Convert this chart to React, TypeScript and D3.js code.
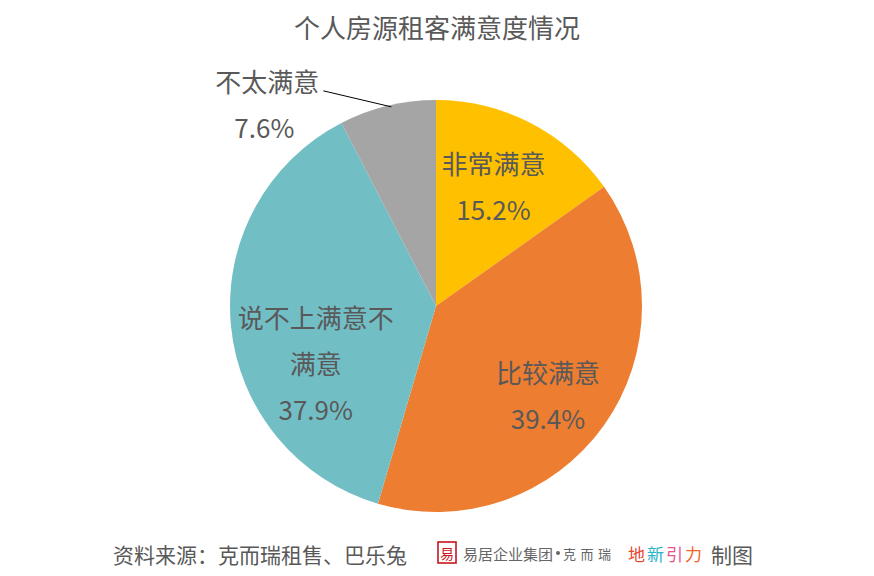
import React from "react";
import * as d3 from "d3";

const categories = ["非常满意", "比较满意", "说不上满意不满意", "不太满意"];
const values = [15.2, 39.4, 37.9, 7.6];
const valueLabels = ["15.2%", "39.4%", "37.9%", "7.6%"];
const colors = ["#FFC000", "#ED7D31", "#72BEC5", "#A5A5A5"];
// label line breaks
const labelLines = [["非常满意"], ["比较满意"], ["说不上满意不", "满意"], ["不太满意"]];
const groupChars = ["克", "而", "瑞"];
const brandChars = ["地", "新", "引", "力"];
const brandColors = ["#E8452C", "#29B4C8", "#E8528A", "#F0642A"];

const W = 874;
const H = 576;
const CX = 436;
const CY = 306;
const R = 206;
const FONT = "'Noto Sans CJK SC', 'Noto Sans', sans-serif";
const TEXT = "#595959";

// layout nudges for inside labels (relative to centroid at 0.65R)
const nudges = [
  [-4, -2],
  [3, 11],
  [13, 44],
  [0, 0],
];

export default function App() {
  const pie = d3.pie<number>().sort(null).value((d) => d)(values);
  const arc = d3.arc<d3.PieArcDatum<number>>().innerRadius(0).outerRadius(R);
  const labelArc = d3
    .arc<d3.PieArcDatum<number>>()
    .innerRadius(R * 0.65)
    .outerRadius(R * 0.65);

  const lineGap = 46;

  return (
    <svg width={W} height={H} style={{ display: "block", position: "absolute", left: 0, top: 0 }} fontFamily={FONT}>
      <rect width={W} height={H} fill="#fff" />
      <text x={437} y={26} textAnchor="middle" dominantBaseline="central" fontSize={26} fill={TEXT}>
        个人房源租客满意度情况
      </text>
      <g transform={`translate(${CX},${CY})`}>
        {pie.map((p, i) => (
          <path key={i} d={arc(p) || ""} fill={colors[i]} />
        ))}
        {pie.map((p, i) => {
          if (i === 3) {
            const mid = (p.startAngle + p.endAngle) / 2;
            const ex = Math.sin(mid) * R;
            const ey = -Math.cos(mid) * R;
            const lx = ex - 120;
            const ly = ey - 25;
            return (
              <g key={i}>
                <line x1={ex + 4} y1={ey + 1} x2={lx + 56} y2={ly + 10} stroke="#000" strokeWidth={1} />
                <text x={lx} y={ly} textAnchor="middle" dominantBaseline="central" fontSize={26} fill={TEXT}>
                  {labelLines[i][0]}
                </text>
                <text x={lx - 3} y={ly + lineGap} textAnchor="middle" dominantBaseline="central" fontSize={26} fill={TEXT}>
                  {valueLabels[i]}
                </text>
              </g>
            );
          }
          const [cx, cy] = labelArc.centroid(p);
          const x = cx + nudges[i][0];
          const lines = [...labelLines[i], valueLabels[i]];
          const y0 = cy + nudges[i][1] - ((lines.length - 1) * lineGap) / 2;
          return (
            <g key={i}>
              {lines.map((t, k) => (
                <text key={k} x={x} y={y0 + k * lineGap} textAnchor="middle" dominantBaseline="central" fontSize={26} fill={TEXT}>
                  {t}
                </text>
              ))}
            </g>
          );
        })}
      </g>
      <text x={113} y={554} dominantBaseline="central" fontSize={21} fill={TEXT}>
        资料来源：克而瑞租售、巴乐兔
      </text>
      <g>
        <rect x={438} y={542} width={18} height={21} fill="none" stroke="#C8161D" strokeWidth={1.6} />
        <text x={447} y={553} textAnchor="middle" dominantBaseline="central" fontSize={14} fill="#C8161D">
          易
        </text>
        <text x={463} y={553} dominantBaseline="central" fontSize={15} fill="#666">
          易居企业集团
        </text>
        <circle cx={558} cy={553} r={2} fill="#666" />
        {groupChars.map((c, i) => (
          <text key={c} x={563 + i * 17.5} y={553} dominantBaseline="central" fontSize={13} fill="#666">
            {c}
          </text>
        ))}
        {brandChars.map((c, i) => (
          <text key={c} x={628 + i * 19} y={553} dominantBaseline="central" fontSize={17} fill={brandColors[i]}>
            {c}
          </text>
        ))}
        <text x={711} y={554} dominantBaseline="central" fontSize={21} fill={TEXT}>
          制图
        </text>
      </g>
    </svg>
  );
}
